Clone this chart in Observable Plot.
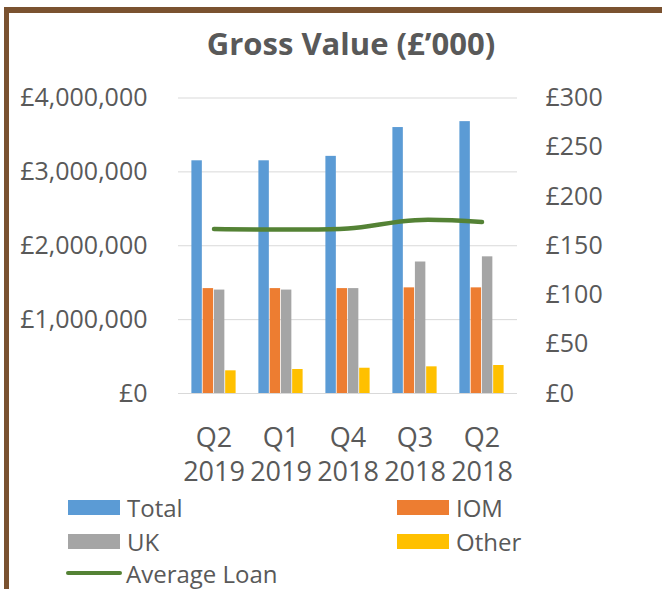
<!DOCTYPE html>
<html>
<head>
<meta charset="utf-8">
<script src="https://cdn.jsdelivr.net/npm/d3@7"></script>
<script src="https://cdn.jsdelivr.net/npm/@observablehq/plot@0.6"></script>
<style>
  html, body { margin: 0; padding: 0; background: #fff; }
  body { width: 662px; height: 589px; position: relative; overflow: hidden; font-family: "Open Sans", sans-serif; color: #595959; }
  #frame { position: absolute; left: 4px; top: 7px; right: -10px; bottom: -10px; border-left: 5px solid #7a5230; border-top: 6px solid #7a5230; }
  #title { position: absolute; left: 0; width: 702px; top: 22px; text-align: center; font-weight: 700; font-size: 31px; line-height: 42px; color: #595959; }
  #chart { position: absolute; left: 0; top: 70px; }
  .leg { position: absolute; display: flex; align-items: center; height: 30px; font-size: 24px; color: #595959; white-space: nowrap; }
  .sw { display: inline-block; width: 52px; height: 15px; margin-right: 7px; }
  .ln { display: inline-block; width: 56px; height: 4px; border-radius: 2px; margin-right: 4px; }
</style>
</head>
<body>
<div id="frame"></div>
<div id="title">Gross Value (£’000)</div>
<div id="chart"></div>
<div id="legend"></div>
<script>
// ---- data ----
const categories = ["Q2 2019", "Q1 2019", "Q4 2018", "Q3 2018", "Q2 2018"];
const total = [3150000, 3150000, 3210000, 3600000, 3680000];
const iom   = [1420000, 1420000, 1420000, 1430000, 1430000];
const uk    = [1400000, 1400000, 1420000, 1780000, 1850000];
const other = [307000, 325000, 342000, 361000, 379000];
const avgLoan = [167, 166.5, 167.5, 176, 174];
const leftTicks = [0, 1000000, 2000000, 3000000, 4000000];
const rightTicks = [0, 50, 100, 150, 200, 250, 300];
const seriesNames = ["Total", "IOM", "UK", "Other"];
const seriesColors = ["#5b9bd5", "#ed7d31", "#a5a5a5", "#ffc000"];
const lineName = "Average Loan";
const lineColor = "#548235";

// ---- layout ----
const W = 662, H = 425;
const mL = 178, mR = 145, mT = 27.5, mB = 102;
const leftMax = 4000000, rightMax = 300;
const K = leftMax / rightMax;

const rows = categories.map((c, i) => ({cat: c, Total: total[i], IOM: iom[i], UK: uk[i], Other: other[i], avg: avgLoan[i]}));

const step = (W - mL - mR) / categories.length;
const groupFrac = 0.664;
const barW = step * groupFrac / seriesNames.length;
const off = step * (1 - groupFrac) / 2;

const barMarks = seriesNames.map((s, k) => Plot.barY(rows, {
  x: "cat", y: s, fill: seriesColors[k],
  insetLeft: off + k * barW,
  insetRight: step - off - (k + 1) * barW
}));

const fmt = d3.format(",");
const chart = Plot.plot({
  width: W, height: H,
  marginLeft: mL, marginRight: mR, marginTop: mT, marginBottom: mB,
  style: {fontFamily: "Open Sans, sans-serif", color: "#595959", background: "transparent", overflow: "visible"},
  x: {domain: categories, padding: 0},
  y: {domain: [0, leftMax]},
  marks: [
    Plot.gridY(leftTicks, {stroke: "#d9d9d9", strokeOpacity: 1, strokeWidth: 1}),
    ...barMarks,
    Plot.line(rows, {x: "cat", y: d => d.avg * K, stroke: lineColor, strokeWidth: 4.5, curve: "catmull-rom", strokeLinecap: "round"}),
    Plot.axisY({anchor: "left", ticks: leftTicks, tickFormat: d => "£" + fmt(d), tickSize: 0, tickPadding: 31, fontSize: 25, label: null}),
    Plot.axisY({anchor: "right", ticks: rightTicks.map(v => v * K), tickFormat: d => "£" + Math.round(d / K), tickSize: 0, tickPadding: 28, fontSize: 25, label: null}),
    Plot.axisX({tickSize: 0, tickPadding: 29, tickFormat: d => d.replace(" ", "\n"), fontSize: 27, lineHeight: 1.26, label: null})
  ]
});
document.getElementById("chart").appendChild(chart);

// ---- legend ----
const legendPos = [
  {x: 68, y: 492}, {x: 397, y: 492},
  {x: 68, y: 526}, {x: 397, y: 526}
];
const legend = document.getElementById("legend");
seriesNames.forEach((s, k) => {
  const d = document.createElement("div");
  d.className = "leg";
  d.style.left = legendPos[k].x + "px";
  d.style.top = legendPos[k].y + "px";
  d.innerHTML = `<span class="sw" style="background:${seriesColors[k]}"></span>${s}`;
  legend.appendChild(d);
});
const dl = document.createElement("div");
dl.className = "leg";
dl.style.left = "66px";
dl.style.top = "558px";
dl.innerHTML = `<span class="ln" style="background:${lineColor}"></span>${lineName}`;
legend.appendChild(dl);
</script>
</body>
</html>
